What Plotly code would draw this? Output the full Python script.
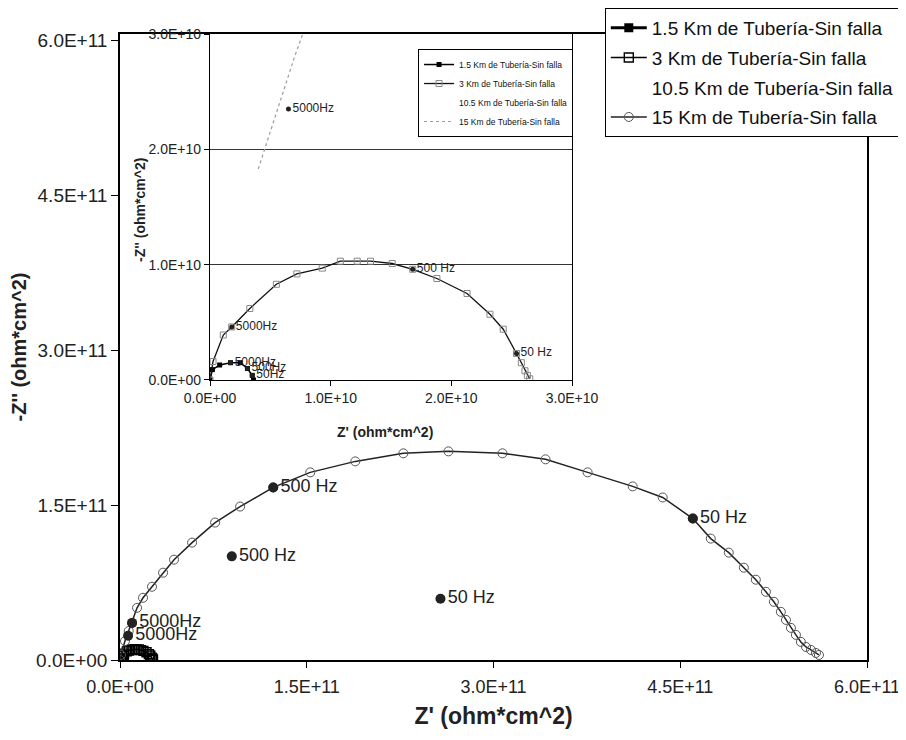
import plotly.graph_objects as go

# ---------------- data (ohm*cm^2) ----------------
# 15 Km de Tubería-Sin falla
zre_15 = [0.0, 0.008e11, 0.040e11, 0.070e11, 0.097e11, 0.137e11, 0.185e11, 0.257e11, 0.346e11, 0.434e11,
          0.579e11, 0.764e11, 0.965e11, 1.231e11, 1.528e11, 1.890e11, 2.276e11, 2.638e11, 3.072e11, 3.418e11,
          3.756e11, 4.118e11, 4.359e11, 4.601e11, 4.745e11, 4.890e11, 5.011e11, 5.107e11, 5.188e11, 5.252e11,
          5.308e11, 5.349e11, 5.389e11, 5.429e11, 5.469e11, 5.510e11, 5.550e11, 5.590e11, 5.614e11]
zim_15 = [0.0, 0.049e11, 0.183e11, 0.280e11, 0.359e11, 0.505e11, 0.602e11, 0.709e11, 0.845e11, 0.971e11,
          1.136e11, 1.330e11, 1.485e11, 1.670e11, 1.816e11, 1.922e11, 2.000e11, 2.019e11, 2.000e11, 1.942e11,
          1.816e11, 1.680e11, 1.573e11, 1.369e11, 1.175e11, 1.039e11, 0.893e11, 0.777e11, 0.660e11, 0.563e11,
          0.466e11, 0.388e11, 0.311e11, 0.243e11, 0.175e11, 0.126e11, 0.097e11, 0.068e11, 0.049e11]
lab_idx_15 = [4, 13, 23]
lab_txt_15 = ["5000Hz", "500 Hz", "50 Hz"]

# 3 Km de Tubería-Sin falla
zre_3 = [0.0, 0.025e10, 0.11e10, 0.18e10, 0.33e10, 0.55e10, 0.72e10, 0.93e10, 1.08e10, 1.22e10, 1.33e10,
         1.51e10, 1.68e10, 1.88e10, 2.13e10, 2.32e10, 2.43e10, 2.54e10, 2.58e10, 2.61e10, 2.63e10, 2.65e10]
zim_3 = [0.0, 0.16e10, 0.39e10, 0.46e10, 0.62e10, 0.83e10, 0.92e10, 0.97e10, 1.03e10, 1.03e10, 1.03e10,
         1.01e10, 0.96e10, 0.88e10, 0.75e10, 0.57e10, 0.44e10, 0.23e10, 0.15e10, 0.08e10, 0.04e10, 0.01e10]
lab_idx_3 = [3, 12, 17]
lab_txt_3 = ["5000Hz", "500 Hz", "50 Hz"]

# 1.5 Km de Tubería-Sin falla
zre_1p5 = [0.0, 0.02e10, 0.08e10, 0.17e10, 0.25e10, 0.31e10, 0.35e10, 0.36e10]
zim_1p5 = [0.0, 0.09e10, 0.13e10, 0.15e10, 0.15e10, 0.10e10, 0.04e10, 0.0]
lab_idx_1p5 = [3, 5, 6]
lab_txt_1p5 = ["5000Hz", "500Hz", "50Hz"]

# 10.5 Km de Tubería-Sin falla (only the labelled points are visible)
zre_10p5 = [0.065e11, 0.898e11, 2.574e11]
zim_10p5 = [0.235e11, 1.003e11, 0.592e11]
lab_txt_10p5 = ["5000Hz", "500 Hz", "50 Hz"]

names = ["1.5 Km de Tubería-Sin falla", "3 Km de Tubería-Sin falla",
         "10.5 Km de Tubería-Sin falla", "15 Km de Tubería-Sin falla"]

main_ticks = [0.0, 1.5e11, 3.0e11, 4.5e11, 6.0e11]
main_ticktext = ["0.0E+00", "1.5E+11", "3.0E+11", "4.5E+11", "6.0E+11"]
inset_ticks = [0.0, 1.0e10, 2.0e10, 3.0e10]
inset_ticktext = ["0.0E+00", "1.0E+10", "2.0E+10", "3.0E+10"]

FONT = "Liberation Sans, Arial, sans-serif"
NARROW = "Liberation Sans Narrow, Arial Narrow, Liberation Sans, sans-serif"

fig = go.Figure()

def pick(arr, idx):
    return [arr[i] for i in idx]

# ---------------- main plot ----------------
fig.add_trace(go.Scatter(x=zre_1p5, y=zim_1p5, mode="lines+markers", name=names[0],
                         line=dict(color="black", width=3),
                         marker=dict(symbol="square", size=9, color="black"),
                         legend="legend", legendgroup="g1"))
fig.add_trace(go.Scatter(x=zre_3, y=zim_3, mode="lines+markers", name=names[1],
                         line=dict(color="black", width=1.5),
                         marker=dict(symbol="square-open", size=9, color="black", line=dict(width=1.4)),
                         legend="legend", legendgroup="g2"))
fig.add_trace(go.Scatter(x=[None], y=[None], mode="lines", name=names[2],
                         line=dict(color="rgba(255,255,255,0)", width=1),
                         legend="legend", legendgroup="g3"))
fig.add_trace(go.Scatter(x=zre_15, y=zim_15, mode="lines+markers", name=names[3],
                         line=dict(color="#222222", width=1.5),
                         marker=dict(symbol="circle-open", size=9, color="#555555", line=dict(width=1)),
                         legend="legend", legendgroup="g4"))
# labelled points
fig.add_trace(go.Scatter(x=zre_10p5, y=zim_10p5, mode="markers+text", text=lab_txt_10p5,
                         textposition="middle right", textfont=dict(family=FONT, size=18, color="#222"),
                         marker=dict(symbol="circle", size=10, color="#222"), showlegend=False))
fig.add_trace(go.Scatter(x=pick(zre_15, lab_idx_15), y=pick(zim_15, lab_idx_15), mode="markers+text",
                         text=lab_txt_15, textposition="middle right",
                         textfont=dict(family=FONT, size=18, color="#222"),
                         marker=dict(symbol="circle", size=10, color="#222"), showlegend=False))

# ---------------- inset ----------------
inset_mask_15 = [i for i, v in enumerate(zim_15) if v >= 0.18e11]
fig.add_trace(go.Scatter(x=zre_1p5, y=zim_1p5, mode="lines+markers", name=names[0],
                         line=dict(color="black", width=1.5),
                         marker=dict(symbol="square", size=5, color="black"),
                         xaxis="x2", yaxis="y2", legend="legend2", legendgroup="h1"))
fig.add_trace(go.Scatter(x=zre_3, y=zim_3, mode="lines+markers", name=names[1],
                         line=dict(color="#111", width=1.3),
                         marker=dict(symbol="square-open", size=6, color="#888", line=dict(width=1)),
                         xaxis="x2", yaxis="y2", legend="legend2", legendgroup="h2"))
fig.add_trace(go.Scatter(x=[None], y=[None], mode="lines", name=names[2],
                         line=dict(color="rgba(255,255,255,0)", width=1),
                         xaxis="x2", yaxis="y2", legend="legend2", legendgroup="h3"))
fig.add_trace(go.Scatter(x=pick(zre_15, inset_mask_15), y=pick(zim_15, inset_mask_15), mode="lines",
                         name=names[3], line=dict(color="#9a9a9a", width=1.2, dash="dot"),
                         xaxis="x2", yaxis="y2", legend="legend2", legendgroup="h4"))
fig.add_trace(go.Scatter(x=pick(zre_3, lab_idx_3), y=pick(zim_3, lab_idx_3), mode="markers+text",
                         text=lab_txt_3, textposition="middle right",
                         textfont=dict(family=NARROW, size=12, color="#222"),
                         marker=dict(symbol="circle", size=5, color="#222"),
                         xaxis="x2", yaxis="y2", showlegend=False))
fig.add_trace(go.Scatter(x=pick(zre_1p5, lab_idx_1p5), y=pick(zim_1p5, lab_idx_1p5), mode="markers+text",
                         text=lab_txt_1p5, textposition="middle right",
                         textfont=dict(family=NARROW, size=12, color="#222"),
                         marker=dict(symbol="circle", size=5, color="#222"),
                         xaxis="x2", yaxis="y2", showlegend=False))
fig.add_trace(go.Scatter(x=zre_10p5, y=zim_10p5, mode="markers+text", text=lab_txt_10p5,
                         textposition="middle right", textfont=dict(family=NARROW, size=12, color="#222"),
                         marker=dict(symbol="circle", size=5, color="#222"),
                         xaxis="x2", yaxis="y2", showlegend=False))

axis_common = dict(showline=True, linecolor="black", mirror=True, ticks="outside",
                   tickcolor="black", showgrid=False, zeroline=False, automargin=False)

# the page body adds an 8 px offset, so the figure is 8 px smaller than the window on each side used
fig.update_layout(
    width=898, height=724,
    margin=dict(l=112, r=39, t=26, b=72, autoexpand=False),
    paper_bgcolor="white", plot_bgcolor="white",
    font=dict(family=FONT, color="#222"),
    xaxis=dict(range=[0, 6.0e11], tickvals=main_ticks, ticktext=main_ticktext, ticklen=6,
               linewidth=1.5, tickfont=dict(size=18), ticklabelstandoff=4,
               title=dict(text="<b>Z' (ohm*cm^2)</b>", font=dict(size=23), standoff=12),
               **axis_common),
    yaxis=dict(range=[0, 6.0e11 * 626 / 620], tickvals=main_ticks, ticktext=main_ticktext, ticklen=7,
               linewidth=1.5, tickfont=dict(size=19),
               title=dict(text="<b>-Z'' (ohm*cm^2)</b>", font=dict(size=20), standoff=8),
               **axis_common),
    xaxis2=dict(domain=[0.1205, 0.6051], anchor="y2", range=[0, 3.0e10], tickvals=inset_ticks,
                ticktext=inset_ticktext, ticklen=5, linewidth=1.2,
                tickfont=dict(family=NARROW, size=14), **axis_common),
    yaxis2=dict(domain=[0.4473, 1.0], anchor="x2", range=[0, 3.0e10], tickvals=inset_ticks,
                ticktext=inset_ticktext, ticklen=5, linewidth=1.2,
                tickfont=dict(family=NARROW, size=14), automargin=False,
                showline=True, linecolor="black", mirror=True, ticks="outside", tickcolor="black",
                showgrid=True, gridcolor="#333", gridwidth=1, zeroline=False),
    legend=dict(x=0.649, y=1.0415, xanchor="left", yanchor="top", bgcolor="white",
                bordercolor="black", borderwidth=1, font=dict(family=FONT, size=19, color="#111"),
                tracegroupgap=2, itemwidth=36),
    legend2=dict(x=0.399, y=0.976, xanchor="left", yanchor="top", bgcolor="white",
                 bordercolor="black", borderwidth=1, font=dict(family=NARROW, size=8.5, color="#111"),
                 tracegroupgap=0, itemwidth=30),
    annotations=[
        dict(text="<b>Z' (ohm*cm^2)</b>", xref="paper", yref="paper", x=0.355, y=0.364,
             xanchor="center", yanchor="middle",
             showarrow=False, font=dict(family=NARROW, size=14, color="#222")),
        dict(text="<b>-Z'' (ohm*cm^2)</b>", xref="paper", yref="paper", x=0.0268, y=0.719,
             xanchor="center", yanchor="middle",
             textangle=-90, showarrow=False, font=dict(family=NARROW, size=14, color="#222")),
    ],
)

fig.write_html("out.html")
